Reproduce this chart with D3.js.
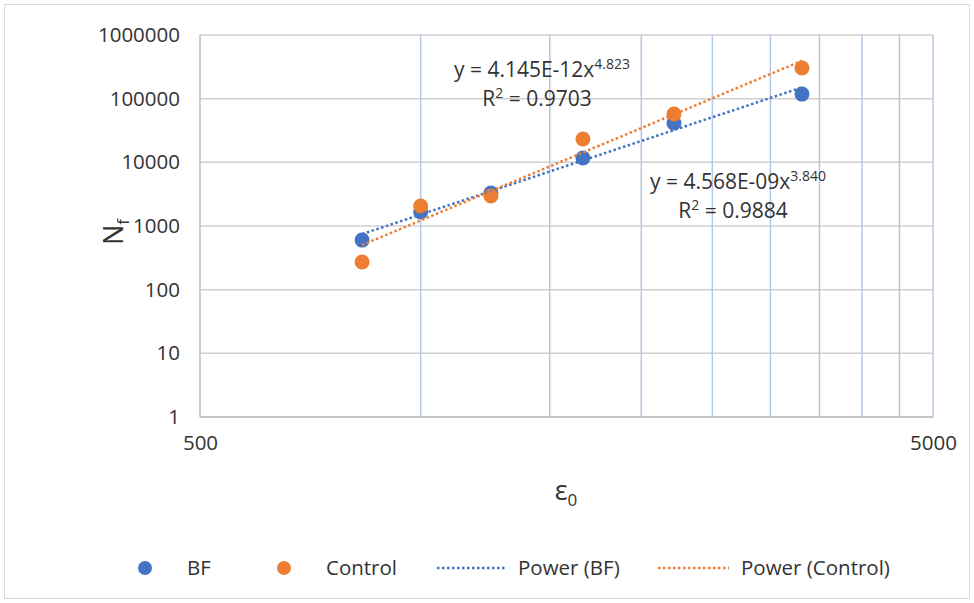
<!DOCTYPE html>
<html>
<head>
<meta charset="utf-8">
<script src="https://cdn.jsdelivr.net/npm/d3@7"></script>
<style>
  body { margin: 0; background: #fff; }
  text { font-family: "Open Sans", sans-serif; fill: #333; }
  .axis path, .axis line { display: none; }
</style>
</head>
<body>
<div id="chart"></div>
<script>
// data
let strain = [832, 1000, 1247, 1665, 2216, 3313];
let bfLife = [600, 1660, 3300, 11700, 41500, 118000];
let controlLife = [272, 2060, 2960, 23200, 57400, 303000];

// power trendlines y = a * x^b, as printed on the chart
let fitNames = ["BF", "Control"];
let fitCoef = [4.568e-9, 4.145e-12];
let fitExp = [3.840, 4.823];
let fitR2 = ["0.9884", "0.9703"];

let yTicks = [1, 10, 100, 1000, 10000, 100000, 1000000];
let xTicks = [500, 5000];
let xMinor = [1000, 1500, 2000, 2500, 3000, 3500, 4000, 4500];

let W = 974, H = 603;
let margin = {top: 35, right: 41, left: 200, bottom: 186};
let width = W - margin.left - margin.right;
let height = H - margin.top - margin.bottom;

let blue = "#4472C4", orange = "#ED7D31";

let svg = d3.select("#chart")
    .append("svg")
    .attr("width", W)
    .attr("height", H);

// outer frame
svg.append("rect")
    .attr("x", 4.5).attr("y", 4.5)
    .attr("width", W - 9).attr("height", H - 9)
    .attr("fill", "#fff")
    .attr("stroke", "#d9d9d9");

let g = svg.append("g")
    .attr("transform", "translate(" + margin.left + "," + margin.top + ")");

let x = d3.scaleLog().domain([500, 5000]).range([0, width]);
let y = d3.scaleLog().domain([1, 1000000]).range([height, 0]);

// gridlines
g.selectAll(".hgrid")
    .data(yTicks)
    .enter()
    .append("line")
    .attr("x1", 0).attr("x2", width)
    .attr("y1", d => y(d)).attr("y2", d => y(d))
    .attr("stroke", "#d0d0d0")
    .attr("stroke-width", 1.5);

g.selectAll(".vgrid")
    .data(xMinor.concat([5000]))
    .enter()
    .append("line")
    .attr("x1", d => x(d)).attr("x2", d => x(d))
    .attr("y1", 0).attr("y2", height)
    .attr("stroke", "#b4c7e7")
    .attr("stroke-width", 1.5);

// axis lines
g.append("line")
    .attr("x1", 0).attr("x2", 0).attr("y1", 0).attr("y2", height)
    .attr("stroke", "#bfbfbf").attr("stroke-width", 1.5);
g.append("line")
    .attr("x1", 0).attr("x2", width).attr("y1", height).attr("y2", height)
    .attr("stroke", "#bfbfbf").attr("stroke-width", 1.5);

let yAxis = d3.axisLeft(y).tickValues(yTicks).tickFormat(d3.format("d")).tickSize(0).tickPadding(20);
let xAxis = d3.axisBottom(x).tickValues(xTicks).tickFormat(d3.format("d")).tickSize(0).tickPadding(18);

g.append("g")
    .attr("class", "axis")
    .call(yAxis)
    .selectAll("text")
    .style("font-size", "20.5px")
    .style("font-family", "'Open Sans', sans-serif")
    .attr("fill", "#333");

g.append("g")
    .attr("class", "axis")
    .attr("transform", "translate(0," + height + ")")
    .call(xAxis)
    .selectAll("text")
    .style("font-size", "20.5px")
    .style("font-family", "'Open Sans', sans-serif")
    .attr("fill", "#333");

// axis titles
let yTitle = svg.append("text")
    .attr("transform", "translate(123,232) rotate(-90)")
    .attr("text-anchor", "middle")
    .style("font-size", "27px");
yTitle.append("tspan").text("N");
yTitle.append("tspan").attr("dy", 6).style("font-size", "17px").text("f");

let xTitle = svg.append("text")
    .attr("x", 566).attr("y", 500)
    .attr("text-anchor", "middle")
    .style("font-size", "27px");
xTitle.append("tspan").text("ε");
xTitle.append("tspan").attr("dy", 6).style("font-size", "17px").text("0");

// markers
let series = [
    {name: "BF", values: bfLife, color: blue},
    {name: "Control", values: controlLife, color: orange}
];

series.forEach(s => {
    g.selectAll(".pt-" + s.name)
        .data(s.values)
        .enter()
        .append("circle")
        .attr("cx", (d, i) => x(strain[i]))
        .attr("cy", d => y(d))
        .attr("r", 7.5)
        .attr("fill", s.color);
});

// trendlines over the data range
let xr = d3.extent(strain);
fitNames.forEach((n, k) => {
    let ends = xr.map(v => [v, fitCoef[k] * Math.pow(v, fitExp[k])]);
    g.append("line")
        .attr("x1", x(ends[0][0])).attr("y1", y(ends[0][1]))
        .attr("x2", x(ends[1][0])).attr("y2", y(ends[1][1]))
        .attr("stroke", k === 0 ? blue : orange)
        .attr("stroke-width", 2.5)
        .attr("stroke-dasharray", "2.5,2.5");
});

// equation labels
function eqLabel(cx, cy, coefText, expText, r2) {
    let t = svg.append("text")
        .attr("x", cx).attr("y", cy)
        .attr("text-anchor", "middle")
        .style("font-size", "21px");
    t.append("tspan").text("y = " + coefText + "x");
    t.append("tspan").attr("dy", -8).style("font-size", "14px").text(expText);
    let r = svg.append("text")
        .attr("x", cx - 5).attr("y", cy + 29)
        .attr("text-anchor", "middle")
        .style("font-size", "21px");
    r.append("tspan").text("R");
    r.append("tspan").attr("dy", -8).style("font-size", "14px").text("2");
    r.append("tspan").attr("dy", 8).text(" = " + r2);
}
eqLabel(542, 77, "4.145E-12", "4.823", fitR2[1]);
eqLabel(738, 189, "4.568E-09", "3.840", fitR2[0]);

// legend
let legend = svg.append("g").attr("transform", "translate(0,568)");
legend.append("circle").attr("cx", 145).attr("cy", 0).attr("r", 7).attr("fill", blue);
legend.append("text").attr("x", 187).attr("y", 7).style("font-size", "20.5px").text("BF");
legend.append("circle").attr("cx", 284).attr("cy", 0).attr("r", 7).attr("fill", orange);
legend.append("text").attr("x", 326).attr("y", 7).style("font-size", "20.5px").text("Control");
legend.append("line").attr("x1", 437).attr("x2", 505).attr("y1", 0).attr("y2", 0)
    .attr("stroke", blue).attr("stroke-width", 2.5).attr("stroke-dasharray", "2.5,2.5");
legend.append("text").attr("x", 518).attr("y", 7).style("font-size", "20.5px").text("Power (BF)");
legend.append("line").attr("x1", 658).attr("x2", 729).attr("y1", 0).attr("y2", 0)
    .attr("stroke", orange).attr("stroke-width", 2.5).attr("stroke-dasharray", "2.5,2.5");
legend.append("text").attr("x", 741).attr("y", 7).style("font-size", "20.5px").text("Power (Control)");
</script>
</body>
</html>
